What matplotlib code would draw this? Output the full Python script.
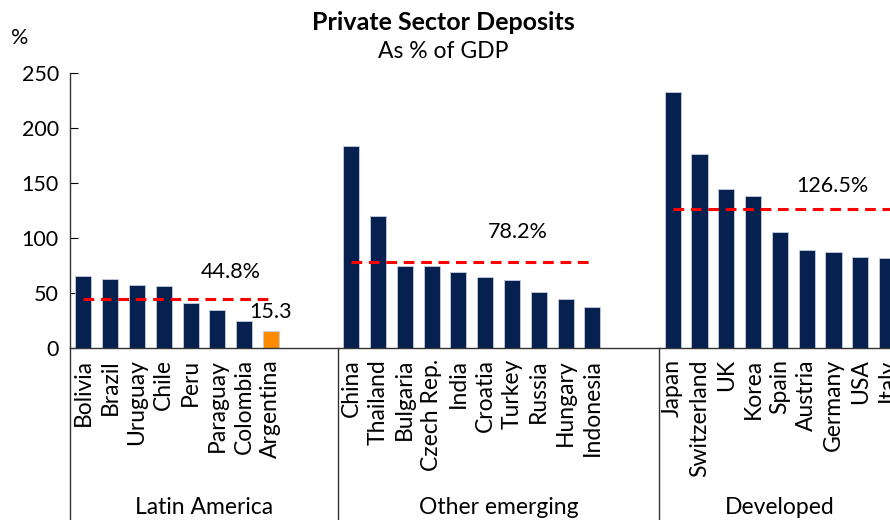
import matplotlib
matplotlib.use("Agg")
import matplotlib.pyplot as plt

plt.rcParams['font.family'] = ['Lato', 'DejaVu Sans']

# data
latam = ['Bolivia', 'Brazil', 'Uruguay', 'Chile', 'Peru', 'Paraguay', 'Colombia', 'Argentina']
latam_vals = [65.5, 62.4, 57.3, 56.4, 40.6, 34.5, 24.5, 15.3]
emerging = ['China', 'Thailand', 'Bulgaria', 'Czech Rep.', 'India', 'Croatia', 'Turkey',
            'Russia', 'Hungary', 'Indonesia']
emerging_vals = [183.6, 120.0, 74.8, 74.8, 69.4, 64.8, 61.8, 51.2, 44.5, 37.0]
developed = ['Japan', 'Switzerland', 'UK', 'Korea', 'Spain', 'Austria', 'Germany', 'USA', 'Italy']
developed_vals = [232.4, 176.0, 144.3, 138.2, 105.2, 89.1, 87.6, 83.0, 82.1]

group_names = ['Latin America', 'Other emerging', 'Developed']
group_avgs = [44.8, 78.2, 126.5]
highlight = 'Argentina'

NAVY = '#06204F'
ORANGE = '#FF8C00'

groups = [(latam, latam_vals), (emerging, emerging_vals), (developed, developed_vals)]

fig = plt.figure(figsize=(8.9, 5.2), dpi=100)
ax = fig.add_axes([70 / 890, 172 / 520, 820 / 890, 275 / 520])

pos = 0
ticks, labels = [], []
starts, ends = [], []
for names, vals in groups:
    xs = list(range(pos, pos + len(names)))
    cols = [ORANGE if n == highlight else NAVY for n in names]
    ax.bar(xs, vals, width=0.6, color=cols, edgecolor='#c5cde0', linewidth=0.6, zorder=2)
    ticks += xs
    labels += names
    starts.append(xs[0])
    ends.append(xs[-1])
    pos += len(names) + 2

# average lines and labels
label_pos = [(5.5, 69), (16.2, 105), (27.95, 147)]
for i, avg in enumerate(group_avgs):
    x_end = ends[i] if i < 2 else ends[i] + 3
    ax.plot([starts[i], x_end], [avg, avg], color='#FF0000', lw=2.2,
            dashes=(3.5, 2.2), zorder=3)
    ax.text(label_pos[i][0], label_pos[i][1], f'{avg}%', ha='center', va='center', fontsize=15.5)

# value label for the highlighted bar
hi = latam.index(highlight)
ax.text(hi, latam_vals[hi] + 17, f'{latam_vals[hi]}', ha='center', va='center', fontsize=15.5)

ax.set_xlim(-0.5, 30.11)
ax.set_ylim(0, 250)
ax.set_yticks([0, 50, 100, 150, 200, 250])
ax.tick_params(axis='y', direction='in', length=6, labelsize=15.5, pad=8)
ax.set_xticks(ticks)
ax.set_xticklabels(labels, rotation=90, fontsize=16.5, va='top', ha='center')
ax.tick_params(axis='x', length=0, pad=8)
for s in ['top', 'right']:
    ax.spines[s].set_visible(False)
for s in ['left', 'bottom']:
    ax.spines[s].set_color('#333333')
    ax.spines[s].set_linewidth(1)

# group separators extending down to the bottom
trans = ax.get_xaxis_transform()
seps = [-0.5] + [s - 0.5 for s in starts[1:]]
for x in seps:
    ax.plot([x, x], [0, -0.7], transform=trans, color='#333333', lw=1, clip_on=False)

bounds = seps + [ends[-1] + 0.5]
for i, name in enumerate(group_names):
    ax.text((bounds[i] + bounds[i + 1]) / 2, -0.58, name, transform=trans,
            ha='center', va='center', fontsize=16.5)

fig.text(20 / 890, 1 - 38 / 520, '%', ha='center', va='center', fontsize=15.5)
fig.text(443 / 890, 1 - 22 / 520, 'Private Sector Deposits', ha='center', va='center',
         fontsize=18, fontweight='bold')
fig.text(443 / 890, 1 - 51 / 520, 'As % of GDP', ha='center', va='center', fontsize=16.5)

fig.savefig('out.png', dpi=100)
